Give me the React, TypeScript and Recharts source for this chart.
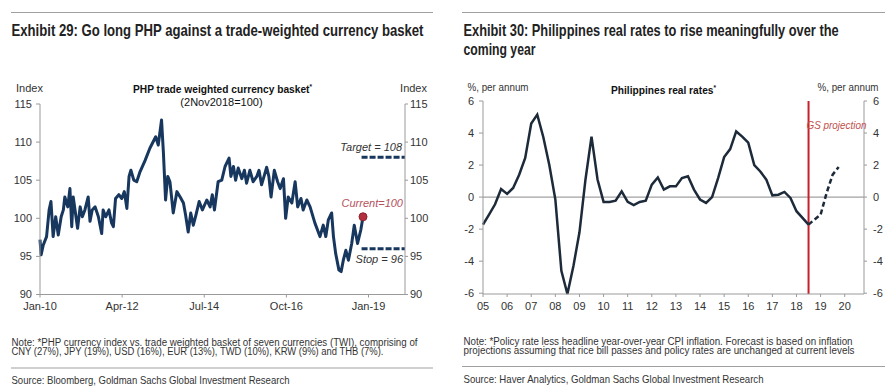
import React from 'react';
import {
  LineChart,
  Line,
  XAxis,
  YAxis,
  ReferenceLine,
  ReferenceDot,
} from 'recharts';

// Exhibit 29: PHP trade weighted currency basket (2Nov2018=100)
const twiTimes = [
  2010.0, 2010.03, 2010.09, 2010.18, 2010.25, 2010.3, 2010.36, 2010.43, 2010.5, 2010.58,
  2010.64, 2010.68, 2010.76, 2010.82, 2010.87, 2010.91, 2010.96, 2011.03, 2011.1, 2011.16,
  2011.23, 2011.32, 2011.37, 2011.43, 2011.51, 2011.6, 2011.69, 2011.73, 2011.8, 2011.89,
  2011.96, 2012.01, 2012.07, 2012.16, 2012.24, 2012.31, 2012.38, 2012.44, 2012.49, 2012.57,
  2012.65, 2012.74, 2012.88, 2013.01, 2013.17, 2013.24, 2013.33, 2013.38, 2013.44, 2013.5,
  2013.56, 2013.65, 2013.75, 2013.84, 2013.93, 2013.99, 2014.06, 2014.13, 2014.2, 2014.27,
  2014.36, 2014.45, 2014.57, 2014.66, 2014.72, 2014.78, 2014.88, 2014.98, 2015.07, 2015.18,
  2015.23, 2015.3, 2015.36, 2015.43, 2015.53, 2015.6, 2015.66, 2015.75, 2015.84, 2015.94,
  2016.0, 2016.07, 2016.15, 2016.21, 2016.27, 2016.33, 2016.42, 2016.51, 2016.58, 2016.67,
  2016.73, 2016.8, 2016.9, 2016.99, 2017.06, 2017.15, 2017.21, 2017.31, 2017.4, 2017.53,
  2017.67, 2017.76, 2017.83, 2017.9, 2017.99, 2018.04, 2018.1, 2018.19, 2018.25, 2018.31,
  2018.38, 2018.45, 2018.54, 2018.61, 2018.7, 2018.79, 2018.85,
];
const twiValues = [
  97.2, 95.2, 96.5, 97.6, 101.1, 102.2, 97.6, 100.2, 97.8, 100.2,
  101.1, 102.8, 101.5, 103.9, 98.9, 102.8, 101.1, 98.7, 101.5, 100.2,
  101.1, 102.8, 99.6, 101.1, 101.5, 100.2, 98.0, 101.1, 100.2, 101.1,
  99.4, 98.9, 102.6, 103.1, 102.6, 103.5, 101.3, 105.5, 106.3, 105.0,
  104.8, 106.1, 107.6, 109.2, 110.7, 109.6, 112.9, 108.7, 102.4, 105.5,
  104.8, 100.7, 103.5, 102.8, 102.0, 100.4, 98.2, 100.7, 99.1, 100.4,
  102.2, 101.1, 102.4, 101.5, 103.1, 101.1, 104.8, 105.0, 106.8, 107.9,
  105.5, 106.8, 105.0, 106.6, 105.2, 106.3, 104.6, 106.3, 104.8, 105.5,
  106.3, 104.4, 105.7, 106.7, 105.5, 102.8, 106.3, 104.8, 103.9, 105.2,
  100.0, 102.8, 102.0, 104.8, 101.5, 102.6, 101.1, 102.4, 101.5, 99.4,
  97.6, 99.1, 97.6, 99.8, 100.7, 97.6, 95.4, 93.2, 93.0, 94.5,
  95.8, 94.5, 96.7, 99.1, 96.7, 98.5, 100.2,
];
const twiTickYears = [2010, 2012.25, 2014.5, 2016.75, 2019];
const twiTickLabels = ['Jan-10', 'Apr-12', 'Jul-14', 'Oct-16', 'Jan-19'];
const twiAxisTicks = [90, 95, 100, 105, 110, 115];
const targetLevel = 108;
const stopLevel = 96;
const levelsFrom = 2018.81;
const levelsTo = 2020;

// Exhibit 30: Philippines real rates, quarterly from 2005Q1
const rateStart = 2005;
const rateActual = [
  -1.72, -1.1, -0.45, 0.5,
  0.2, 0.57, 1.4, 2.45,
  4.6, 5.15, 3.75, 2.0,
  -0.15, -4.6, -6.05, -4.3,
  -2.2, 1.1, 3.78, 1.1,
  -0.3, -0.3, -0.22, 0.36,
  -0.3, -0.5, -0.3, -0.22,
  0.78, 1.23, 0.47, 0.67,
  0.67, 1.19, 1.3, 0.47,
  -0.15, -0.36, 0.0, 1.19,
  2.5, 3.0, 4.1, 3.78,
  3.4, 2.0, 1.6, 1.09,
  0.11, 0.15, 0.32, -0.05,
  -0.88, -1.3, -1.72,
];
// GS projection, starting at 2018Q3
const rateProjection = [-1.72, -1.4, -1.1, 0.26, 1.4, 1.88];
const projectionStart = 2018.5;
const rateYearLabels = ['05', '06', '07', '08', '09', '10', '11', '12', '13', '14', '15', '16', '17', '18', '19', '20'];
const rateAxisTicks = [-6, -4, -2, 0, 2, 4, 6];

const twiData = twiTimes.map((t, i) => ({ t, twi: twiValues[i] }));

const projOffset = rateActual.length - 1;
const rateData = Array.from({ length: projOffset + rateProjection.length }, (_, i) => ({
  t: rateStart + i * 0.25,
  actual: i < rateActual.length ? rateActual[i] : undefined,
  proj: i >= projOffset ? rateProjection[i - projOffset] : undefined,
}));
const rateTickYears = rateYearLabels.map((l) => 2000 + Number(l));

const FONT = '"Liberation Sans", Arial, sans-serif';
const NARROW = '"Liberation Sans Narrow", "Liberation Sans", Arial, sans-serif';
const tickStyle = { fontSize: 11, fill: '#333', fontFamily: FONT };
const axisColor = '#9a9a9a';
const lastT = twiTimes[twiTimes.length - 1];
const lastV = twiValues[twiValues.length - 1];

const Overlay = () => (
  <svg width={890} height={389} style={{ position: 'absolute', left: 0, top: 0, pointerEvents: 'none' }}>
    {/* rules */}
    <line x1={11} x2={433} y1={12.5} y2={12.5} stroke="#a0a0a0" strokeWidth={1.2} />
    <line x1={462} x2={885} y1={12.5} y2={12.5} stroke="#a0a0a0" strokeWidth={1.2} />
    <line x1={11} x2={433} y1={368} y2={368} stroke="#a0a0a0" strokeWidth={1.2} />
    <line x1={462} x2={885} y1={366.5} y2={366.5} stroke="#a0a0a0" strokeWidth={1.2} />

    {/* titles */}
    <g fontFamily={NARROW} fontWeight="bold" fontSize={16.5} fill="#222">
      <text x={11.5} y={36} textLength={412} lengthAdjust="spacingAndGlyphs">
        Exhibit 29: Go long PHP against a trade-weighted currency basket
      </text>
      <text transform="translate(463.5,36) scale(0.72,1)" textLength={521} lengthAdjust="spacingAndGlyphs">
        Exhibit 30: Philippines real rates to rise meaningfully over the
      </text>
      <text x={463.5} y={54.5} textLength={72} lengthAdjust="spacingAndGlyphs">
        coming year
      </text>
    </g>

    {/* chart headers */}
    <g fontFamily={FONT} fontSize={11} fill="#333">
      <text x={16} y={91.5}>Index</text>
      <text x={427} y={91.5} textAnchor="end">Index</text>
      <text x={133} y={92.5} fontWeight="bold" fill="#111" textLength={179} lengthAdjust="spacingAndGlyphs">
        PHP trade weighted currency basket<tspan fontSize={7} dy={-4}>*</tspan>
      </text>
      <text x={221.5} y={106} textAnchor="middle" fill="#111">(2Nov2018=100)</text>

      <text x={467.5} y={90.5} textLength={61} lengthAdjust="spacingAndGlyphs">%, per annum</text>
      <text x={878.5} y={90.5} textAnchor="end" textLength={61} lengthAdjust="spacingAndGlyphs">%, per annum</text>
      <text x={611} y={94} fontWeight="bold" fill="#111" textLength={105} lengthAdjust="spacingAndGlyphs">
        Philippines real rates<tspan fontSize={7} dy={-4}>*</tspan>
      </text>
    </g>

    {/* annotations */}
    <g fontFamily={FONT} fontSize={11} fontStyle="italic">
      <text x={402} y={150.5} textAnchor="end" fill="#333">Target = 108</text>
      <text x={403} y={206.5} textAnchor="end" fill="#b4505c">Current=100</text>
      <text x={403} y={263} textAnchor="end" fill="#333">Stop = 96</text>
      <text x={806.5} y={128.5} fill="#c0504d" textLength={60} lengthAdjust="spacingAndGlyphs">GS projection</text>
    </g>

    {/* notes and sources */}
    <g fontFamily={NARROW} fontSize={10} fill="#333">
      <text x={11.5} y={346} textLength={406} lengthAdjust="spacingAndGlyphs">
        Note: *PHP currency index vs. trade weighted basket of seven currencies (TWI), comprising of
      </text>
      <text x={11.5} y={355} textLength={372} lengthAdjust="spacingAndGlyphs">
        CNY (27%), JPY (19%), USD (16%), EUR (13%), TWD (10%), KRW (9%) and THB (7%).
      </text>
      <text x={463.5} y={345} textLength={389} lengthAdjust="spacingAndGlyphs">
        Note: *Policy rate less headline year-over-year CPI inflation. Forecast is based on inflation
      </text>
      <text x={463.5} y={354} textLength={391} lengthAdjust="spacingAndGlyphs">
        projections assuming that rice bill passes and policy rates are unchanged at current levels
      </text>
    </g>
    <g fontFamily={NARROW} fontSize={10.5} fill="#333">
      <text x={11.5} y={383.5} textLength={278} lengthAdjust="spacingAndGlyphs">
        Source: Bloomberg, Goldman Sachs Global Investment Research
      </text>
      <text x={463.5} y={383} textLength={300} lengthAdjust="spacingAndGlyphs">
        Source: Haver Analytics, Goldman Sachs Global Investment Research
      </text>
    </g>
  </svg>
);

const TwiChart = () => (
  <div style={{ position: 'absolute', left: 0, top: 60 }}>
    <LineChart width={445} height={270} data={twiData} margin={{ top: 44, right: 0, bottom: 10.5, left: 0 }}>
      <XAxis
        dataKey="t"
        type="number"
        domain={[2010, 2020]}
        ticks={twiTickYears}
        interval={0}
        tickFormatter={(v: number) => twiTickLabels[twiTickYears.indexOf(v)] ?? ''}
        tick={tickStyle}
        tickSize={3}
        tickMargin={5}
        height={25}
        axisLine={{ stroke: axisColor }}
        tickLine={{ stroke: axisColor }}
      />
      <YAxis
        yAxisId="left"
        domain={[90, 115]}
        ticks={twiAxisTicks}
        interval={0}
        width={40}
        tick={tickStyle}
        tickSize={4}
        tickMargin={4}
        axisLine={{ stroke: axisColor }}
        tickLine={{ stroke: axisColor }}
      />
      <YAxis
        yAxisId="right"
        orientation="right"
        domain={[90, 115]}
        ticks={twiAxisTicks}
        interval={0}
        width={40}
        tick={{ ...tickStyle, textAnchor: 'start' }}
        tickSize={3}
        tickMargin={2}
        axisLine={{ stroke: axisColor }}
        tickLine={{ stroke: axisColor }}
      />
      <ReferenceLine
        yAxisId="left"
        segment={[{ x: levelsFrom, y: targetLevel }, { x: levelsTo, y: targetLevel }]}
        stroke="#17375e"
        strokeWidth={3}
        strokeDasharray="6 2"
      />
      <ReferenceLine
        yAxisId="left"
        segment={[{ x: levelsFrom, y: stopLevel }, { x: levelsTo, y: stopLevel }]}
        stroke="#17375e"
        strokeWidth={3}
        strokeDasharray="6 2"
      />
      {/* invisible copy so the right-hand axis is drawn */}
      <Line yAxisId="right" dataKey="twi" stroke="none" dot={false} activeDot={false} isAnimationActive={false} />
      <Line
        yAxisId="left"
        dataKey="twi"
        stroke="#17375e"
        strokeWidth={3}
        dot={false}
        isAnimationActive={false}
        strokeLinejoin="round"
      />
      <ReferenceDot yAxisId="left" x={lastT} y={lastV} r={4} fill="#b3303e" stroke="#8c2230" strokeWidth={1} />
    </LineChart>
  </div>
);

const RateChart = () => (
  <div style={{ position: 'absolute', left: 445, top: 60 }}>
    <LineChart width={445} height={270} data={rateData} margin={{ top: 41, right: 0, bottom: 11, left: 0 }}>
      <XAxis
        dataKey="t"
        type="number"
        domain={[2005, 2020.8]}
        ticks={rateTickYears}
        interval={0}
        tickFormatter={(v: number) => rateYearLabels[rateTickYears.indexOf(v)] ?? ''}
        tick={tickStyle}
        tickSize={3}
        tickMargin={5}
        height={25}
        axisLine={{ stroke: axisColor }}
        tickLine={{ stroke: axisColor }}
      />
      <YAxis
        yAxisId="left"
        domain={[-6, 6]}
        ticks={rateAxisTicks}
        interval={0}
        width={38}
        tick={tickStyle}
        tickSize={4}
        tickMargin={5}
        axisLine={{ stroke: axisColor }}
        tickLine={{ stroke: axisColor }}
      />
      <YAxis
        yAxisId="right"
        orientation="right"
        domain={[-6, 6]}
        ticks={rateAxisTicks}
        interval={0}
        width={26}
        tick={{ ...tickStyle, textAnchor: 'start' }}
        tickSize={3}
        tickMargin={6}
        axisLine={{ stroke: axisColor }}
        tickLine={{ stroke: axisColor }}
      />
      <ReferenceLine yAxisId="left" y={0} stroke="#8a8a8a" strokeWidth={1} />
      <ReferenceLine yAxisId="left" x={projectionStart} stroke="#c8202a" strokeWidth={2} />
      {/* invisible copy so the right-hand axis is drawn */}
      <Line yAxisId="right" dataKey="actual" stroke="none" dot={false} activeDot={false} isAnimationActive={false} />
      <Line
        yAxisId="left"
        dataKey="actual"
        stroke="#1c2a3a"
        strokeWidth={2.5}
        dot={false}
        isAnimationActive={false}
        connectNulls={false}
      />
      <Line
        yAxisId="left"
        dataKey="proj"
        stroke="#1c2a3a"
        strokeWidth={2.5}
        strokeDasharray="5 3"
        dot={false}
        isAnimationActive={false}
        connectNulls={false}
      />
    </LineChart>
  </div>
);

export default function App() {
  return (
    <div style={{ position: 'absolute', left: 0, top: 0, width: 890, height: 389, background: '#fff', overflow: 'hidden' }}>
      <TwiChart />
      <RateChart />
      <Overlay />
    </div>
  );
}
